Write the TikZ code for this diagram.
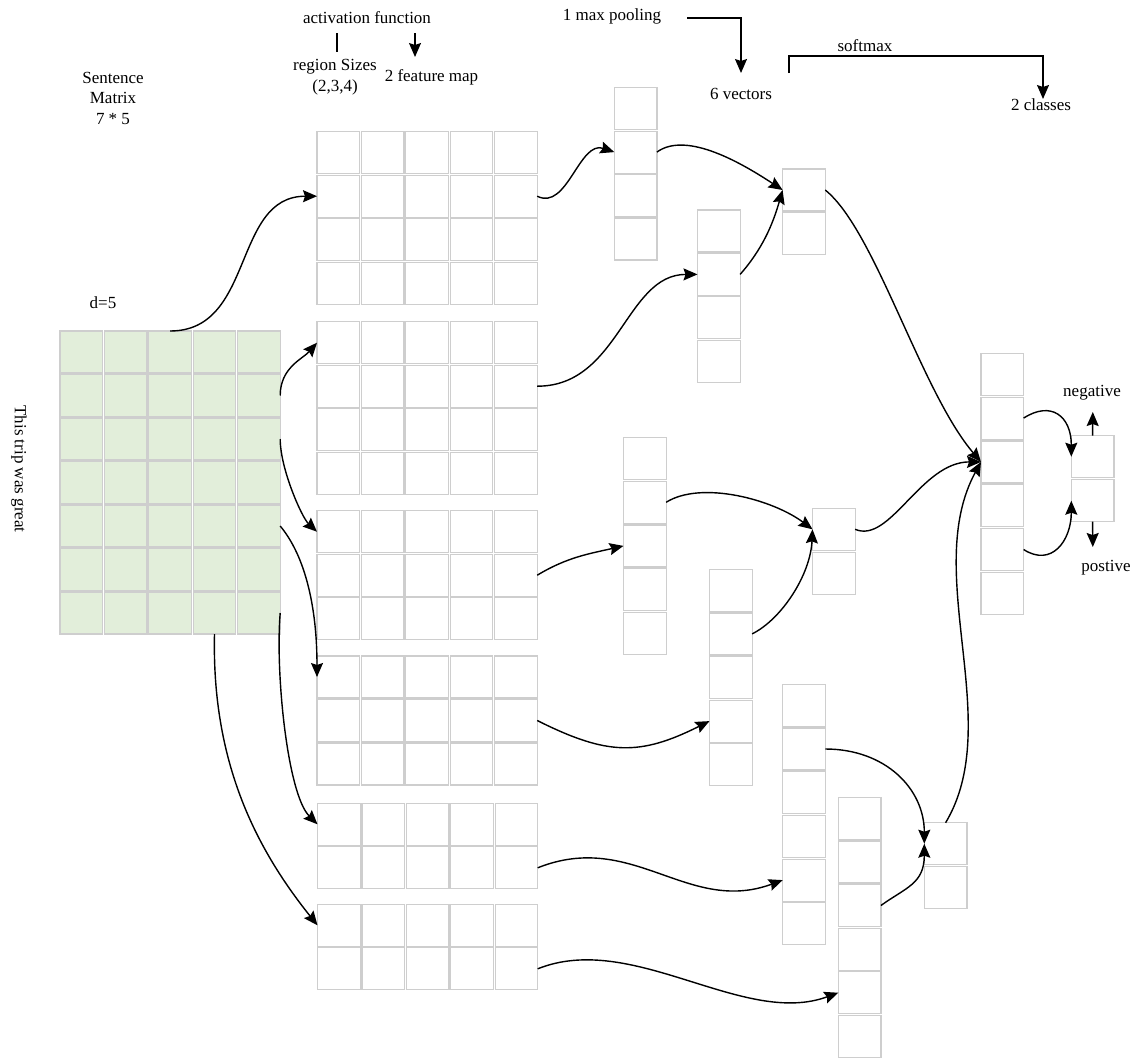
\documentclass[tikz,border=0pt]{standalone}
\usepackage{fontspec}
\setmainfont{Liberation Serif}
\usetikzlibrary{arrows.meta,calc}
\definecolor{cellgray}{RGB}{206,206,206}
\definecolor{cellgreen}{RGB}{226,238,218}
\newcommand\cellgrid[6]{%
  \foreach \i in {1,...,#4}{\foreach \j in {1,...,#5}{%
    \node[#6] (#1-\i-\j) at ({#2+(\j-1)*44.4},{#3+(\i-1)*43.5}) {};}}}
\newcommand\cellcol[5]{%
  \foreach \i in {1,...,#4}{\node[cell] (#1-\i) at (#2,{#3+(\i-1)*#5}) {};}}
\newcommand\cnnbez[4]{\draw[conn] (#1) .. controls ($(#1)+(#2)$) and ($(#3)+(#4)$) .. (#3);}
\begin{document}
\begin{tikzpicture}[x=1pt,y=-1pt,
  cell/.style={draw=cellgray, line width=1.2pt, minimum width=42.6pt, minimum height=42pt,
    inner sep=0pt, outer sep=0pt, anchor=north west},
  gcell/.style={cell, fill=cellgreen},
  lbl/.style={font=\fontsize{17}{20.5}\selectfont, inner sep=0pt, align=center},
  conn/.style={line width=1.4pt, -{Stealth[length=14pt,width=12pt,inset=2pt]}},
  plainline/.style={line width=1.4pt}]
\useasboundingbox (0,0) rectangle (1135,1058);

% sentence matrix and feature maps
\cellgrid{m}{60}{331}{7}{5}{gcell}
\cellgrid{fa}{317}{131.7}{4}{5}{cell}
\cellgrid{fb}{317}{321.7}{4}{5}{cell}
\cellgrid{fc}{317}{510.7}{3}{5}{cell}
\cellgrid{fd}{317}{656}{3}{5}{cell}
\cellgrid{fe}{317.5}{803.3}{2}{5}{cell}
\cellgrid{ff}{317.5}{904.3}{2}{5}{cell}

% vectors
\cellcol{va}{614.3}{87.7}{4}{43.4}
\cellcol{vb}{697.5}{210}{4}{43.4}
\cellcol{sa}{782.6}{169}{2}{43.5}
\cellcol{vc}{623.5}{437.7}{5}{43.6}
\cellcol{vd}{709.5}{569.3}{5}{43.6}
\cellcol{sb}{812.5}{508.3}{2}{43.8}
\cellcol{fin}{981}{353.3}{6}{43.8}
\cellcol{cls}{1071.3}{435.7}{2}{44}
\cellcol{ve}{782.7}{684.3}{6}{43.7}
\cellcol{vf}{838.3}{797.3}{6}{43.6}
\cellcol{sc}{924.3}{822.7}{2}{44}

% labels
\node[lbl] (act) at (367,18) {activation function};
\node[lbl] (reg) at (335,77) {region Sizes\\(2,3,4)};
\node[lbl] (fmap) at (431.5,77) {2 feature map};
\node[lbl] (smat) at (113,98) {Sentence\\Matrix\\7 * 5};
\node[lbl] (dfive) at (103,303) {d=5};
\node[lbl, rotate=-90] (trip) at (19,469) {This trip was great};
\node[lbl] (mpool) at (612,16) {1 max pooling};
\node[lbl] (vecs) at (741,94) {6 vectors};
\node[lbl] (soft) at (865,46) {softmax};
\node[lbl] (classes) at (1041,105) {2 classes};
\node[lbl] (neg) at (1092,393) {negative};
\node[lbl] (pos) at (1106,568) {postive};

% header connectors
\coordinate (actL) at (337,33);
\coordinate (actLb) at (337,52);
\draw[plainline] (actL) -- (actLb);
\coordinate (actA) at (415,33);
\coordinate (actAb) at (415,57);
\draw[conn] (actA) -- (actAb);
\coordinate (mpA) at (687,18);
\coordinate (mpB) at (741,73);
\draw[conn] (mpA) -| (mpB);
\coordinate (smA) at (789,73);
\coordinate (smB) at (1043,99);
\draw[conn] (smA) -- ++(0,-17) -| (smB);

% output arrows
\coordinate (negtip) at (1092.8,412);
\coordinate (postip) at (1092.8,547);
\draw[conn] (cls-1.north) -- (negtip);
\draw[conn] (cls-2.south) -- (postip);

% matrix to feature maps
\cnnbez{m-1-3.north}{85,0}{fa-2-1.west}{-85,0}
\cnnbez{m-2-5.east}{0,-28}{fb-1-1.west}{-14,16}
\cnnbez{m-3-5.east}{0,30}{fc-1-1.west}{-15,-14}
\cnnbez{m-5-5.east}{25,30}{fd-1-1.west}{0,-70}
\cnnbez{m-7-5.east}{-5,60}{fe-1-1.west}{-30,-30}
\cnnbez{m-7-4.south}{-3,130}{ff-1-1.west}{-60,-75}

% feature maps to vectors
\cnnbez{fa-2-5.east}{30,15}{va-2.west}{-35,-12}
\cnnbez{fb-2-5.east}{82,0}{vb-2.west}{-72,0}
\cnnbez{fc-2-5.east}{30,-18}{vc-3.west}{-35,8}
\cnnbez{fd-2-5.east}{70,35}{vd-4.west}{-70,35}
\cnnbez{fe-2-5.east}{95,-38}{ve-5.west}{-95,35}
\cnnbez{ff-2-5.east}{95,-38}{vf-5.west}{-95,35}

% vectors to pooled
\cnnbez{va-2.east}{30,-22}{sa-1.west}{-38,-25}
\cnnbez{vb-2.east}{22,-25}{sa-1.west}{-10,35}
\cnnbez{vc-2.east}{35,-22}{sb-1.west}{-40,-30}
\cnnbez{vd-2.east}{30,-15}{sb-1.west}{-2,45}
\cnnbez{ve-2.east}{60,0}{sc-1.west}{0,-55}
\cnnbez{vf-3.east}{25,-18}{sc-1.west}{0,40}

% pooled to concatenated
\cnnbez{sa-1.east}{50,40}{fin-3.west}{-60,-70}
\cnnbez{sb-1.east}{35,15}{fin-3.west}{-60,0}
\cnnbez{sc-1.north}{60,-100}{fin-3.west}{-60,110}

% concatenated to classes
\cnnbez{fin-2.east}{28,-18}{cls-1.west}{0,-40}
\cnnbez{fin-5.east}{28,18}{cls-2.west}{0,40}
\end{tikzpicture}
\end{document}
